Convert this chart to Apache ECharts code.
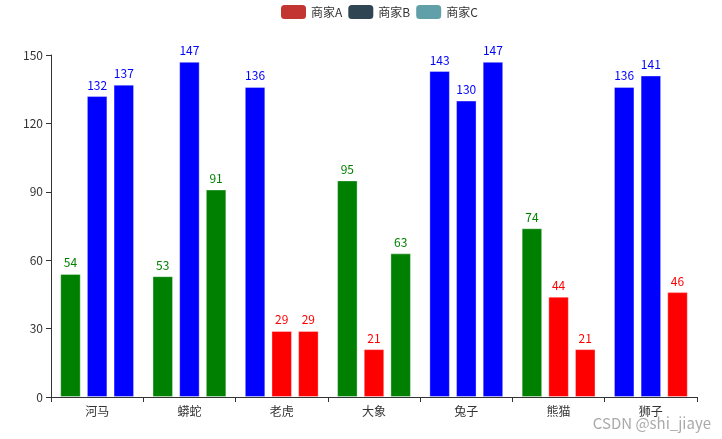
<!DOCTYPE html>
<html>
<head>
<meta charset="utf-8">
<script src="https://cdn.jsdelivr.net/npm/echarts@6/dist/echarts.min.js"></script>
<style>html,body{margin:0;padding:0;background:#fff;}#c{width:722px;height:439px;}</style>
</head>
<body>
<div id="c"></div>
<script>
var categories = ['河马', '蟒蛇', '老虎', '大象', '兔子', '熊猫', '狮子'];
var seriesNames = ['商家A', '商家B', '商家C'];
var dataA = [54, 53, 136, 95, 143, 74, 136];
var dataB = [132, 147, 29, 21, 130, 44, 141];
var dataC = [137, 91, 29, 63, 147, 21, 46];
var yTicks = [0, 30, 60, 90, 120, 150];

function colorFor(v) {
  if (v >= 100) return '#0000ff';
  if (v >= 50) return '#008000';
  return '#ff0000';
}
var font = '"Microsoft YaHei", "Noto Sans CJK SC", sans-serif';
var legendColors = ['#c23531', '#2f4554', '#61a0a8'];

function makeSeries(name, data) {
  return {
    name: name,
    type: 'bar',
    barGap: '30%',
    barCategoryGap: '20%',
    data: data.map(function (v) {
      return { value: v, itemStyle: { color: colorFor(v) }, label: { color: colorFor(v) } };
    }),
    itemStyle: {
      borderColor: 'rgba(255,255,255,0.35)',
      borderWidth: 1
    },
    label: {
      show: true,
      position: 'top',
      fontSize: 12,
      fontFamily: font
    }
  };
}

var chart = echarts.init(document.getElementById('c'));
chart.setOption({
  animation: false,
  textStyle: { fontFamily: font },
  color: legendColors,
  legend: {
    top: 0,
    left: 276,
    itemGap: 6,
    data: seriesNames.map(function (n, i) { return { name: n, itemStyle: { color: legendColors[i], borderWidth: 0 } }; }),
    itemWidth: 25,
    itemHeight: 14,
    icon: 'roundRect',
    textStyle: { color: '#333', fontSize: 12, fontFamily: font }
  },
  grid: { left: 51, right: 25, top: 55, bottom: 42, containLabel: false },
  xAxis: {
    type: 'category',
    data: categories,
    axisLine: { show: true, lineStyle: { color: '#333' } },
    axisTick: { show: true, alignWithLabel: false, lineStyle: { color: '#333' } },
    axisLabel: { color: '#333', fontSize: 12, fontFamily: font }
  },
  yAxis: {
    type: 'value',
    min: yTicks[0],
    max: yTicks[yTicks.length - 1],
    interval: 30,
    axisLine: { show: true, lineStyle: { color: '#333' } },
    axisTick: { show: true, lineStyle: { color: '#333' } },
    axisLabel: { color: '#333', fontSize: 12, fontFamily: font },
    splitLine: { show: false }
  },
  series: [makeSeries(seriesNames[0], dataA), makeSeries(seriesNames[1], dataB), makeSeries(seriesNames[2], dataC)],
  graphic: [{
    type: 'text',
    right: 11,
    bottom: 8,
    style: { text: 'CSDN @shi_jiaye', fill: '#aaa', fontSize: 15, fontFamily: font }
  }]
});
</script>
</body>
</html>
